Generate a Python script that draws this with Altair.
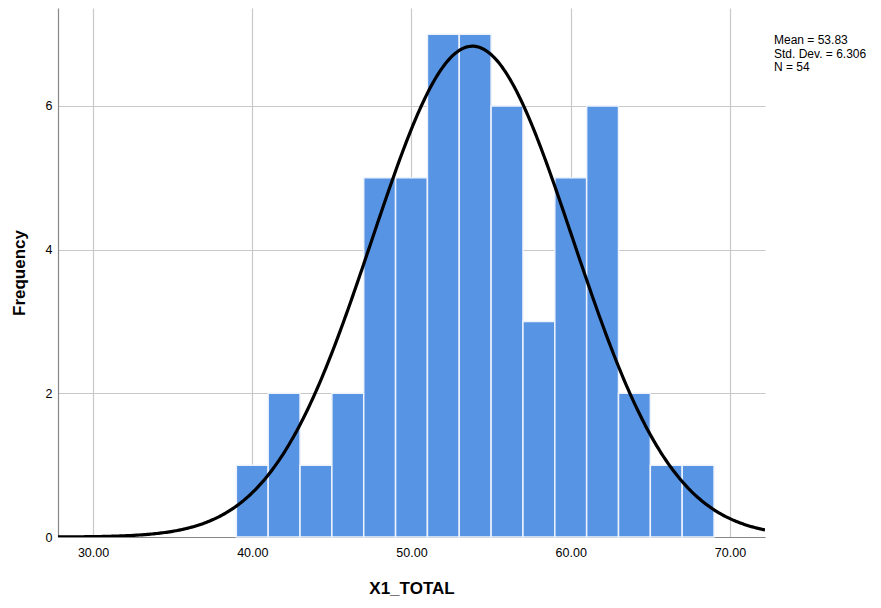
import altair as alt
import pandas as pd

bin_start = [39, 41, 43, 45, 47, 49, 51, 53, 55, 57, 59, 61, 63, 65, 67]
counts = [1, 2, 1, 2, 5, 5, 7, 7, 6, 3, 5, 6, 2, 1, 1]
bin_width = 2
mean, sd, n = 53.83, 6.306, 54
x_ticks = [30, 40, 50, 60, 70]
y_ticks = [0, 2, 4, 6]
stats_lines = ["Mean = 53.83", "Std. Dev. = 6.306", "N = 54"]

bars_df = pd.DataFrame({
    "start": bin_start,
    "end": [s + bin_width for s in bin_start],
    "count": counts,
})

xdom = [27.8, 72.2]
ydom = [0, 7.364]
W, H = 707, 529
FONT = "Liberation Sans"

xscale = alt.Scale(domain=xdom, nice=False, zero=False)
yscale = alt.Scale(domain=ydom, nice=False)

bars = alt.Chart(bars_df).mark_rect(
    color="#5894e4", stroke="#eef3fb", strokeWidth=1.5
).encode(
    x=alt.X("start:Q", scale=xscale,
            axis=alt.Axis(values=x_ticks, format=".2f", title="X1_TOTAL", grid=True)),
    x2="end:Q",
    y=alt.Y("count:Q", scale=yscale,
            axis=alt.Axis(values=y_ticks, format="d", title="Frequency", grid=True)),
    y2=alt.datum(0),
)

curve = alt.Chart(alt.sequence(xdom[0], xdom[1] + 0.05, 0.1, as_="x")).transform_calculate(
    y=f"{n * bin_width} * densityNormal(datum.x, {mean}, {sd})"
).mark_line(color="black", strokeWidth=3.2, clip=True).encode(
    x=alt.X("x:Q", scale=xscale),
    y=alt.Y("y:Q", scale=yscale),
)

stats_df = pd.DataFrame({"t": stats_lines, "i": list(range(len(stats_lines)))})
stats = alt.Chart(stats_df).transform_calculate(
    py="32 + datum.i * 13.7"
).mark_text(
    align="left", baseline="middle", font=FONT, fontSize=12, color="black", clip=False
).encode(
    x=alt.value(W + 9),
    y=alt.Y("py:Q", scale=None),
    text="t:N",
)

chart = alt.layer(bars, curve, stats).properties(
    width=W, height=H,
    autosize=alt.AutoSizeParams(type="none"),
    padding={"left": 50, "top": 0, "right": 105, "bottom": 62},
).configure_view(stroke=None).configure_axis(
    gridColor="#c8c8c8", gridWidth=1.2, domainColor="#888888", domainWidth=1.2,
    ticks=False, labelFont=FONT, labelFontSize=12.5, labelColor="black",
    titleFont=FONT, titleFontSize=17, titleFontWeight="bold", titleColor="black",
).configure_axisX(
    labelPadding=9, titlePadding=22,
).configure_axisY(
    labelPadding=6, titlePadding=17, domain=True,
)

chart.save("out.html", embed_options={"renderer": "svg", "actions": False})
